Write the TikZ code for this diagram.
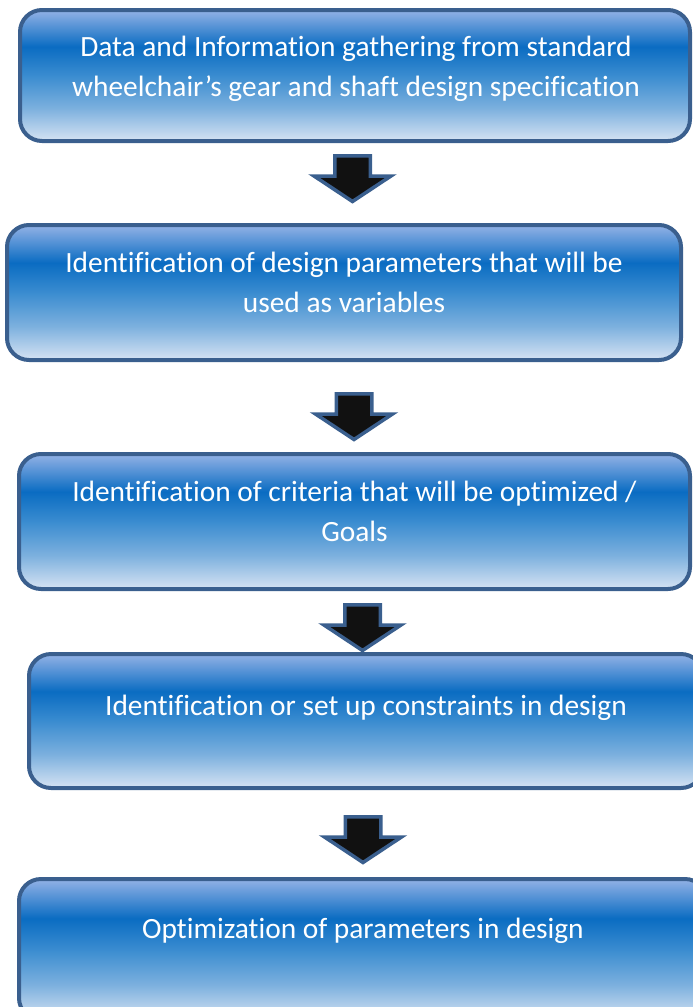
\documentclass[tikz,border=0pt]{standalone}
\usepackage{fontspec}
\setmainfont{Carlito}[Ligatures=NoCommon]
\definecolor{cTop}{HTML}{93B2E6}
\definecolor{cDark}{HTML}{0A6CC2}
\definecolor{cMid}{HTML}{3A8CD0}
\definecolor{cLow}{HTML}{7CB0DE}
\definecolor{cBot}{HTML}{D6E3F3}
\definecolor{edgeblue}{HTML}{3A5F8E}
\definecolor{arrowfill}{HTML}{111111}
\pgfdeclareverticalshading{oceanshade}{100bp}{color(0bp)=(cBot); color(25bp)=(cBot); color(37.5bp)=(cLow); color(50bp)=(cMid); color(61bp)=(cDark); color(75bp)=(cTop); color(100bp)=(cTop)}
\tikzset{
  stepbox/.style={draw=edgeblue, line width=4pt, rounded corners=22pt, shading=oceanshade, inner sep=0pt},
  steptext/.style={text=white, align=center, font=\fontsize{29.4}{40}\selectfont, inner sep=0pt, anchor=base},
  blockarrow/.pic={\draw[draw=edgeblue, fill=arrowfill, line width=3.5pt, line join=miter]
    (-17.75,1.75) -- (17.75,1.75) -- (17.75,22) -- (38.5,22) -- (0,47.5) -- (-38.5,22) -- (-17.75,22) -- cycle;}
}
\begin{document}
\begin{tikzpicture}[x=1pt,y=-1pt]
\useasboundingbox (0,0) rectangle (693,1007);
% boxes: outer px bounds, path inset by 2
\path[stepbox] (20,10) rectangle (690,141);
\node[inner sep=0pt, minimum size=0pt] (b1) at (355,75.5) {};
\path[stepbox] (7,225) rectangle (681,360);
\node[inner sep=0pt, minimum size=0pt] (b2) at (344,292.5) {};
\path[stepbox] (19,454) rectangle (690,589);
\node[inner sep=0pt, minimum size=0pt] (b3) at (354.5,521.5) {};
\path[stepbox] (29,654) rectangle (703,788);
\node[inner sep=0pt, minimum size=0pt] (b4) at (366,721) {};
\path[stepbox] (19,879) rectangle (707,1020);
\node[inner sep=0pt, minimum size=0pt] (b5) at (363,949) {};
% texts
\node[steptext] (t1) at (356,96) {Data and Information gathering from standard\\wheelchair’s gear and shaft design specification};
\node[steptext] (t2) at (344,312) {Identification of design parameters that will be\\used as variables};
\node[steptext] (t3) at (354.5,541) {Identification of criteria that will be optimized /\\Goals};
\node[steptext] (t4) at (366,715) {Identification or set up constraints in design};
\node[steptext] (t5) at (363,938) {Optimization of parameters in design};
% arrows
\pic at (352.5,154) {blockarrow};
\pic at (354,392) {blockarrow};
\pic at (362.5,603) {blockarrow};
\pic at (363,815) {blockarrow};
\end{tikzpicture}
\end{document}
